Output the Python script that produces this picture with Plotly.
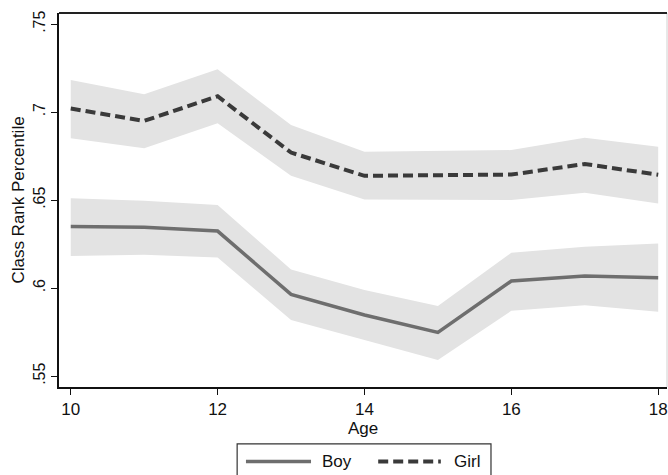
import plotly.graph_objects as go

# Class rank percentile by age, with 95% confidence bands
ages = [10, 11, 12, 13, 14, 15, 16, 17, 18]

girl_mean = [0.702, 0.695, 0.709, 0.677, 0.6638, 0.6642, 0.6645, 0.6705, 0.6644]
girl_upper = [0.7182, 0.7102, 0.7243, 0.6926, 0.6775, 0.6780, 0.6784, 0.6854, 0.6803]
girl_lower = [0.6851, 0.6794, 0.6936, 0.6638, 0.6504, 0.6504, 0.6500, 0.6542, 0.6481]

boy_mean = [0.6350, 0.6345, 0.6324, 0.5964, 0.5847, 0.5748, 0.6040, 0.6068, 0.6059]
boy_upper = [0.6510, 0.6496, 0.6472, 0.6106, 0.5989, 0.5898, 0.6201, 0.6235, 0.6254]
boy_lower = [0.6182, 0.6189, 0.6174, 0.5818, 0.5705, 0.5591, 0.5871, 0.5903, 0.5866]

y_ticks = [0.55, 0.6, 0.65, 0.7, 0.75]
y_ticktext = [".55", ".6", ".65", ".7", ".75"]
x_ticks = [10, 12, 14, 16, 18]

BAND = "#e3e3e3"
BOY_COLOR = "#6e6e6e"
GIRL_COLOR = "#3a3a3a"
TEXT = "#111111"
FONT = "Liberation Sans, Arial, sans-serif"

fig = go.Figure()


def add_band(upper, lower):
    fig.add_trace(go.Scatter(x=ages, y=upper, mode="lines", line=dict(width=0),
                             showlegend=False, hoverinfo="skip"))
    fig.add_trace(go.Scatter(x=ages, y=lower, mode="lines", line=dict(width=0),
                             fill="tonexty", fillcolor=BAND,
                             showlegend=False, hoverinfo="skip"))


add_band(girl_upper, girl_lower)
add_band(boy_upper, boy_lower)

fig.add_trace(go.Scatter(x=ages, y=boy_mean, mode="lines", name="Boy",
                         line=dict(color=BOY_COLOR, width=3.5), showlegend=False))
fig.add_trace(go.Scatter(x=ages, y=girl_mean, mode="lines", name="Girl",
                         line=dict(color=GIRL_COLOR, width=4, dash="10px,5px"),
                         showlegend=False))

# Legend drawn as a framed box beneath the axis
fig.add_shape(type="rect", xref="paper", yref="paper",
              x0=0.293, x1=0.7105, y0=-0.40, y1=-0.152,
              line=dict(color="#333333", width=1.2), fillcolor="white")
fig.add_shape(type="line", xref="paper", yref="paper",
              x0=0.3075, x1=0.4145, y0=-0.199, y1=-0.199,
              line=dict(color=BOY_COLOR, width=3.5))
fig.add_shape(type="line", xref="paper", yref="paper",
              x0=0.525, x1=0.628, y0=-0.199, y1=-0.199,
              line=dict(color=GIRL_COLOR, width=4, dash="10px,5px"))
fig.add_annotation(xref="paper", yref="paper", x=0.429, y=-0.199, text="Boy",
                   showarrow=False, xanchor="left", yanchor="middle",
                   font=dict(family=FONT, size=17, color=TEXT))
fig.add_annotation(xref="paper", yref="paper", x=0.646, y=-0.199, text="Girl",
                   showarrow=False, xanchor="left", yanchor="middle",
                   font=dict(family=FONT, size=17, color=TEXT))

# Right edge of the plot region
fig.add_shape(type="line", xref="paper", yref="paper", x0=1, x1=1, y0=0, y1=1,
              line=dict(color="#d0d0d0", width=1))

fig.update_xaxes(range=[9.84, 18.12], tickvals=x_ticks, ticks="outside", ticklen=6,
                 tickwidth=1, tickcolor=TEXT, showgrid=False, zeroline=False,
                 showline=True, linecolor=TEXT, linewidth=2,
                 tickfont=dict(family=FONT, size=17, color=TEXT),
                 title=dict(text="Age", standoff=0,
                            font=dict(family=FONT, size=17, color=TEXT)))
fig.update_yaxes(range=[0.5438, 0.7563], tickvals=y_ticks, ticktext=y_ticktext,
                 tickangle=-90, ticks="outside", ticklen=6, tickwidth=1,
                 tickcolor=TEXT, showgrid=False, zeroline=False,
                 showline=True, linecolor=TEXT, linewidth=2,
                 tickfont=dict(family=FONT, size=16, color=TEXT),
                 title=dict(text="Class Rank Percentile", standoff=2,
                            font=dict(family=FONT, size=17, color=TEXT)))

# Top border of the plot region
fig.add_shape(type="line", xref="paper", yref="paper", x0=0, x1=1, y0=1, y1=1,
              line=dict(color="#222222", width=2))

fig.update_layout(width=668, height=475,
                  margin=dict(l=59, r=1, t=13, b=88),
                  paper_bgcolor="white", plot_bgcolor="white",
                  showlegend=False)

fig.write_html("out.html")
